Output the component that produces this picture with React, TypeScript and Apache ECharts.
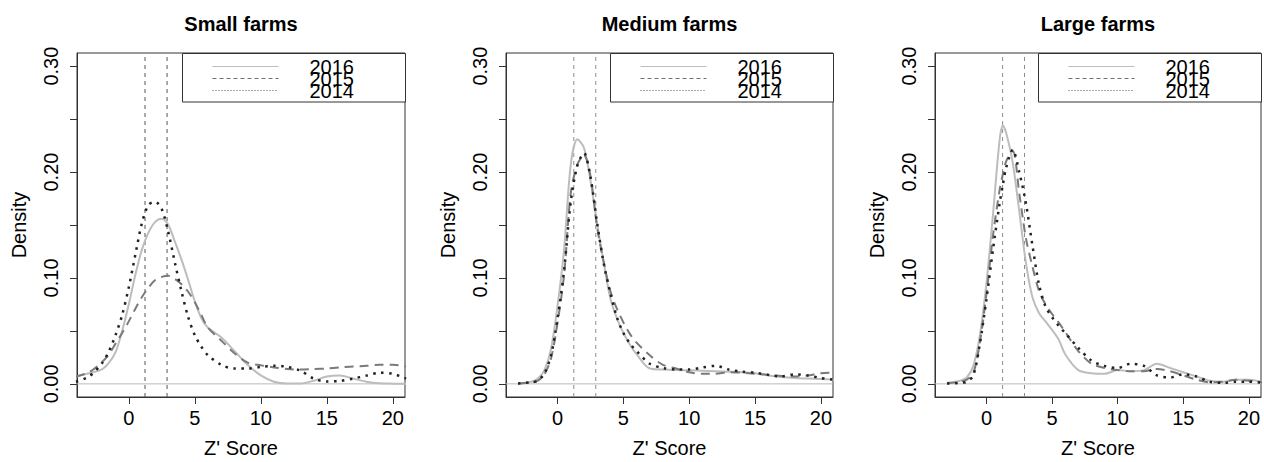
import React, { useEffect, useRef } from "react";
import * as echarts from "echarts";

const FONT = "'Liberation Sans', Arial, sans-serif";

const panelTitles = ["Small farms", "Medium farms", "Large farms"];
const years = ["2016", "2015", "2014"];
const refLines = [1.23, 2.9];
const xTicks = [0, 5, 10, 15, 20];
const yTicks = [0, 0.05, 0.1, 0.15, 0.2, 0.25, 0.3];
const yLabels = [0, 0.1, 0.2, 0.3];
const X_MIN = -3.92;
const X_MAX = 20.92;
const Y_MIN = -0.0124;
const Y_MAX = 0.3124;

// Z' score sample points
const xSmall = [-4, -3, -2, -1.5, -1, -0.5, 0, 0.5, 1, 1.5, 2, 2.5, 3, 3.5, 4, 4.5, 5, 5.5, 6, 7, 8, 9, 10, 11, 12, 13, 14, 15, 16, 17, 18, 19, 20, 21];
const xMedium = [-3, -2, -1.5, -1, -0.5, 0, 0.5, 1, 1.5, 2, 2.5, 3, 3.5, 4, 4.5, 5, 5.5, 6, 7, 8, 9, 10, 11, 12, 13, 14, 15, 16, 17, 18, 19, 20, 21];
const xLarge = [-3, -2, -1.5, -1, -0.5, 0, 0.5, 1, 1.25, 1.5, 2, 2.5, 3, 3.5, 4, 4.5, 5, 5.5, 6, 7, 8, 9, 10, 11, 12, 13, 14, 15, 16, 17, 18, 19, 20, 21];

// Small farms densities
const small2016 = [0.007, 0.010, 0.014, 0.020, 0.030, 0.050, 0.075, 0.103, 0.127, 0.143, 0.153, 0.156, 0.150, 0.134, 0.117, 0.098, 0.078, 0.062, 0.053, 0.044, 0.031, 0.018, 0.008, 0.002, 0.0003, 0.0003, 0.003, 0.007, 0.008, 0.005, 0.002, 0.0005, 0.0002, 0.0001];
const small2015 = [0.007, 0.011, 0.021, 0.028, 0.038, 0.048, 0.059, 0.071, 0.082, 0.091, 0.098, 0.101, 0.102, 0.099, 0.094, 0.087, 0.077, 0.065, 0.053, 0.041, 0.029, 0.020, 0.0175, 0.0155, 0.014, 0.0135, 0.014, 0.0145, 0.0155, 0.0165, 0.017, 0.018, 0.018, 0.0165];
const small2014 = [0.002, 0.007, 0.020, 0.031, 0.046, 0.065, 0.091, 0.122, 0.152, 0.169, 0.172, 0.165, 0.143, 0.114, 0.087, 0.063, 0.046, 0.035, 0.027, 0.018, 0.0145, 0.0145, 0.016, 0.0172, 0.016, 0.0125, 0.005, 0.0022, 0.0028, 0.005, 0.0078, 0.0105, 0.0095, 0.005];

// Medium farms densities
const med2016 = [0.0003, 0.002, 0.005, 0.013, 0.033, 0.074, 0.128, 0.207, 0.231, 0.223, 0.192, 0.151, 0.115, 0.081, 0.062, 0.048, 0.037, 0.028, 0.0145, 0.0135, 0.013, 0.0128, 0.0125, 0.012, 0.0115, 0.011, 0.010, 0.008, 0.0065, 0.0055, 0.005, 0.0045, 0.004];
const med2015 = [0.0003, 0.0015, 0.003, 0.009, 0.024, 0.058, 0.104, 0.180, 0.207, 0.216, 0.196, 0.148, 0.115, 0.088, 0.071, 0.058, 0.047, 0.039, 0.027, 0.018, 0.0145, 0.011, 0.0095, 0.0095, 0.011, 0.0105, 0.0095, 0.0085, 0.0075, 0.007, 0.008, 0.010, 0.0105];
const med2014 = [0.0003, 0.0015, 0.003, 0.010, 0.027, 0.062, 0.108, 0.172, 0.206, 0.218, 0.195, 0.152, 0.114, 0.086, 0.063, 0.048, 0.038, 0.031, 0.019, 0.015, 0.0135, 0.0135, 0.0155, 0.017, 0.0135, 0.0115, 0.0105, 0.0085, 0.007, 0.009, 0.008, 0.0055, 0.004];

// Large farms densities
const large2016 = [0.001, 0.003, 0.006, 0.017, 0.046, 0.095, 0.160, 0.230, 0.244, 0.237, 0.209, 0.163, 0.115, 0.082, 0.067, 0.059, 0.051, 0.042, 0.028, 0.013, 0.010, 0.0095, 0.013, 0.012, 0.013, 0.019, 0.015, 0.011, 0.007, 0.003, 0.002, 0.004, 0.004, 0.002];
const large2015 = [0.0005, 0.002, 0.004, 0.010, 0.039, 0.085, 0.140, 0.183, 0.198, 0.210, 0.220, 0.180, 0.138, 0.111, 0.088, 0.075, 0.066, 0.058, 0.049, 0.031, 0.019, 0.015, 0.013, 0.012, 0.012, 0.014, 0.012, 0.008, 0.004, 0.0015, 0.002, 0.004, 0.003, 0.0015];
const large2014 = [0.0003, 0.001, 0.002, 0.008, 0.038, 0.080, 0.127, 0.170, 0.188, 0.204, 0.221, 0.200, 0.171, 0.131, 0.094, 0.073, 0.063, 0.055, 0.048, 0.034, 0.022, 0.017, 0.015, 0.019, 0.017, 0.008, 0.006, 0.009, 0.007, 0.002, 0.001, 0.002, 0.002, 0.001];

const panelX = [xSmall, xMedium, xLarge];
const panelSeries = [
  [small2016, small2015, small2014],
  [med2016, med2015, med2014],
  [large2016, large2015, large2014],
];

const GRIDS = [
  { left: 77, top: 53, width: 328, height: 344 },
  { left: 506, top: 53, width: 327, height: 344 },
  { left: 935, top: 53, width: 326, height: 344 },
];
const REF_COLORS = ["#555555", "#8c8c8c", "#8c8c8c"];

const LINE_STYLES = [
  { color: "#bdbdbd", width: 2, type: "solid" },
  { color: "#7a7a7a", width: 2, type: [9, 6] },
  { color: "#222222", width: 2.5, type: [2.5, 5.5] },
];
const LEGEND_STYLES = [
  { stroke: "#bdbdbd", lineDash: null },
  { stroke: "#6e6e6e", lineDash: [4, 3] },
  { stroke: "#555555", lineDash: [1, 2] },
];

export default function App() {
  const ref = useRef<HTMLDivElement>(null);
  useEffect(() => {
    if (!ref.current) return;
    const chart = echarts.init(ref.current, null, { renderer: "svg" });

    const series: any[] = [];
    GRIDS.forEach((_, pi) => {
      // zero baseline
      series.push({
        type: "line",
        xAxisIndex: pi,
        yAxisIndex: pi,
        data: [[X_MIN, 0], [X_MAX, 0]],
        showSymbol: false,
        symbol: "none",
        silent: true,
        lineStyle: { color: "#bbbbbb", width: 1, type: "solid" },
        z: 2,
      });
      // reference thresholds
      refLines.forEach((r) => {
        series.push({
          type: "line",
          xAxisIndex: pi,
          yAxisIndex: pi,
          data: [[r, Y_MIN], [r, Y_MAX]],
          showSymbol: false,
          symbol: "none",
          silent: true,
          lineStyle: { color: REF_COLORS[pi], width: 1, type: [4, 4] },
          z: 2,
        });
      });
    });
    panelSeries.forEach((sets, pi) => {
      sets.forEach((vals, si) => {
        series.push({
          type: "line",
          name: years[si],
          xAxisIndex: pi,
          yAxisIndex: pi,
          data: vals.map((v, k) => [panelX[pi][k], v]),
          smooth: 0.3,
          showSymbol: false,
          symbol: "none",
          clip: true,
          lineStyle: { ...LINE_STYLES[si], cap: "butt" },
          z: 3 + si,
        });
      });
    });

    const graphic: any[] = [];
    GRIDS.forEach((g) => {
      const L = Math.round(g.left + g.width - 223.5) + 0.5;
      const R = g.left + g.width + 0.5;
      graphic.push({
        type: "rect",
        shape: { x: L, y: g.top + 0.5, width: R - L, height: 48.5 },
        style: { fill: "#ffffff", stroke: "#333333", lineWidth: 1 },
        z: 100,
      });
      [66, 78, 90].forEach((y, i) => {
        graphic.push({
          type: "line",
          shape: { x1: L + 30, y1: y + 0.5, x2: L + 96, y2: y + 0.5 },
          style: { stroke: LEGEND_STYLES[i].stroke, lineWidth: 1, lineDash: LEGEND_STYLES[i].lineDash },
          z: 101,
        });
        graphic.push({
          type: "text",
          x: L + 127,
          y: y + 1,
          style: { text: years[i], font: `20px ${FONT}`, fill: "#000", verticalAlign: "middle", align: "left" },
          z: 102,
        });
      });
      // axis titles
      graphic.push({
        type: "text",
        x: g.left + g.width / 2,
        y: g.top + g.height + 41,
        style: { text: "Z' Score", font: `20px ${FONT}`, fill: "#000", align: "center", verticalAlign: "top" },
        z: 102,
      });
      graphic.push({
        type: "text",
        x: g.left - 58,
        y: g.top + g.height / 2,
        rotation: Math.PI / 2,
        style: { text: "Density", font: `20px ${FONT}`, fill: "#000", align: "center", verticalAlign: "middle" },
        z: 102,
      });
    });

    const option: any = {
      animation: false,
      title: GRIDS.map((g, i) => ({
        text: panelTitles[i],
        left: g.left + g.width / 2,
        top: 14,
        textAlign: "center",
        padding: 0,
        textStyle: { fontFamily: FONT, fontSize: 20, fontWeight: "bold", color: "#000" },
      })),
      grid: GRIDS.map((g) => ({
        ...g,
        show: true,
        borderColor: "#333",
        borderWidth: 1,
        containLabel: false,
        outerBoundsMode: "none",
      })),
      xAxis: GRIDS.map((_, i) => ({
        type: "value",
        gridIndex: i,
        position: "bottom",
        min: X_MIN,
        max: X_MAX,
        axisLine: { show: true, onZero: false, lineStyle: { color: "#333", width: 1 } },
        axisTick: { show: true, length: 7, customValues: xTicks, lineStyle: { color: "#333", width: 1 } },
        axisLabel: { customValues: xTicks, margin: 11, fontFamily: FONT, fontSize: 20, color: "#000" },
        splitLine: { show: false },
      })),
      yAxis: GRIDS.map((_, i) => ({
        type: "value",
        gridIndex: i,
        position: "left",
        min: Y_MIN,
        max: Y_MAX,
        axisLine: { show: true, onZero: false, lineStyle: { color: "#333", width: 1 } },
        axisTick: { show: true, length: 7, customValues: yTicks, lineStyle: { color: "#333", width: 1 } },
        axisLabel: {
          customValues: yLabels,
          rotate: 90,
          margin: 16,
          fontFamily: FONT,
          fontSize: 20,
          color: "#000",
          formatter: (v: number) => v.toFixed(2),
        },
        splitLine: { show: false },
      })),
      series,
      graphic,
    };
    chart.setOption(option);
    return () => chart.dispose();
  }, []);
  return <div ref={ref} style={{ position: "fixed", left: 0, top: 0, width: 1264, height: 462, background: "#fff" }} />;
}
